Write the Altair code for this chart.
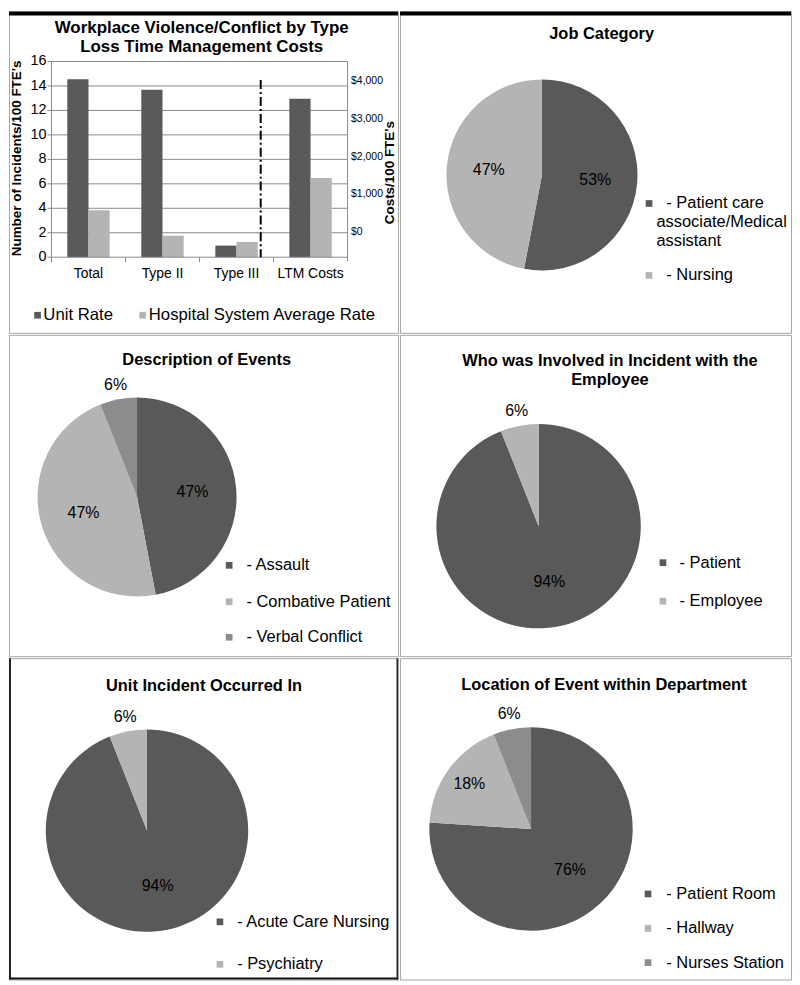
import textwrap
import altair as alt
import pandas as pd

FONT = "Liberation Sans"
DARK, LIGHT, MID = "#595959", "#b4b4b4", "#8c8c8c"
GRID = "#8a8a8a"
BORDER = "#a6a6a6"

# ---------------- data ----------------
bar_categories = ["Total", "Type II", "Type III", "LTM Costs"]
bar_series = ["Unit Rate", "Hospital System Average Rate"]
incident_categories = ["Total", "Type II", "Type III"]
unit_rate = [14.55, 13.7, 0.95]          # incidents / 100 FTE's
hospital_rate = [3.85, 1.75, 1.25]
ltm_costs = [3540, 1430]                 # $ / 100 FTE's (unit, hospital)
left_ticks = [0, 2, 4, 6, 8, 10, 12, 14, 16]
right_ticks = [0, 1000, 2000, 3000, 4000]

job_categories = ["- Patient care associate/Medical assistant", "- Nursing"]
job_share = [53, 47]
event_categories = ["- Assault", "- Combative Patient", "- Verbal Conflict"]
event_share = [47, 47, 6]
who_categories = ["- Patient", "- Employee"]
who_share = [94, 6]
unit_categories = ["- Acute Care Nursing", "- Psychiatry"]
unit_share = [94, 6]
location_categories = ["- Patient Room", "- Hallway", "- Nurses Station"]
location_share = [76, 18, 6]

COL_W = [391, 393]
ROW_H = 323


def one():
    return pd.DataFrame({"k": [0]})


def text_at(x, y, s, size=16.5, bold=False, align="left", angle=0):
    return alt.Chart(one()).mark_text(
        text=s, font=FONT, fontSize=size, fontWeight="bold" if bold else "normal",
        align=align, baseline="middle", angle=angle, color="black",
    ).encode(x=alt.value(x), y=alt.value(y))


def box(x1, x2, y1, y2, color):
    return alt.Chart(one()).mark_rect(color=color, strokeWidth=0).encode(
        x=alt.value(x1), x2=alt.value(x2), y=alt.value(y1), y2=alt.value(y2))


def hrule(x1, x2, y, color, w=1):
    return alt.Chart(one()).mark_rule(color=color, strokeWidth=w).encode(
        x=alt.value(x1), x2=alt.value(x2), y=alt.value(y))


def vrule(x, y1, y2, color, w=1, dash=None):
    kw = dict(color=color, strokeWidth=w)
    if dash:
        kw["strokeDash"] = dash
    return alt.Chart(one()).mark_rule(**kw).encode(
        x=alt.value(x), y=alt.value(y1), y2=alt.value(y2))


# ---------------- panel 1 : bar chart ----------------
def bar_panel(w, h):
    L, R, T, B = 42.7, 340.3, 50.3, 247
    inc_scale = alt.Scale(domain=[0, 16], range=[B, T], nice=False, zero=True)
    cost_scale = alt.Scale(domain=[-681, 4530], range=[B, T], nice=False, zero=False)
    x_scale = alt.Scale(domain=bar_categories, range=[L, R], paddingInner=0, paddingOuter=0)
    color_scale = alt.Scale(domain=bar_series, range=[DARK, LIGHT])

    inc_df = pd.DataFrame({
        "cat": incident_categories * 2,
        "series": [bar_series[0]] * 3 + [bar_series[1]] * 3,
        "value": unit_rate + hospital_rate,
    })
    cost_df = pd.DataFrame({"cat": ["LTM Costs"] * 2, "series": bar_series, "cost": ltm_costs})
    layers = []
    # grid
    layers.append(alt.Chart(pd.DataFrame({"t": left_ticks[1:]})).mark_rule(color=GRID, strokeWidth=1).encode(
        y=alt.Y("t:Q", scale=inc_scale, axis=None), x=alt.value(L), x2=alt.value(R)))
    # bars
    for s, off in zip(bar_series, [-10.65, 10.65]):
        layers.append(alt.Chart(inc_df).transform_filter(alt.datum.series == s).mark_bar(width=21.3, xOffset=off).encode(
            x=alt.X("cat:N", scale=x_scale, axis=None),
            y=alt.Y("value:Q", scale=inc_scale, axis=None),
            color=alt.Color("series:N", scale=color_scale, legend=None)))
        layers.append(alt.Chart(cost_df).transform_filter(alt.datum.series == s).transform_calculate(base="-681").mark_bar(width=21.3, xOffset=off).encode(
            x=alt.X("cat:N", scale=x_scale, axis=None),
            y=alt.Y("cost:Q", scale=cost_scale, axis=None),
            y2=alt.Y2("base:Q"),
            color=alt.Color("series:N", scale=color_scale, legend=None)))
    # axes lines
    layers.append(hrule(L, R, B, GRID))
    layers.append(vrule(L, T, B + 4, GRID))
    layers.append(vrule(R, T, B + 4, GRID))
    # left ticks + labels
    tdf = pd.DataFrame({"t": left_ticks})
    layers.append(alt.Chart(tdf).mark_rule(color=GRID).encode(
        y=alt.Y("t:Q", scale=inc_scale, axis=None), x=alt.value(L - 4), x2=alt.value(L)))
    layers.append(alt.Chart(tdf).mark_text(font=FONT, fontSize=14.5, align="right", baseline="middle", color="black").encode(
        y=alt.Y("t:Q", scale=inc_scale, axis=None), x=alt.value(L - 5), text="t:Q"))
    # right labels
    layers.append(alt.Chart(pd.DataFrame({"c": right_ticks})).mark_text(font=FONT, fontSize=10.5, align="left", baseline="middle", color="black").encode(
        y=alt.Y("c:Q", scale=cost_scale, axis=None), x=alt.value(R + 3.5), text=alt.Text("c:Q", format="$,.0f")))
    # x ticks + labels
    cdf = pd.DataFrame({"cat": bar_categories})
    layers.append(alt.Chart(cdf).mark_rule(color=GRID).encode(
        x=alt.X("cat:N", scale=x_scale, bandPosition=0, axis=None), y=alt.value(B), y2=alt.value(B + 5)))
    layers.append(alt.Chart(cdf).mark_text(font=FONT, fontSize=14, baseline="middle", color="black").encode(
        x=alt.X("cat:N", scale=x_scale, axis=None), y=alt.value(264), text="cat:N"))
    # divider
    layers.append(vrule(253, 69, B, "black", 2, [9, 3, 2, 3]))
    # titles
    layers.append(text_at(193.7, 17, "Workplace Violence/Conflict by Type", size=17, bold=True, align="center"))
    layers.append(text_at(193.7, 35.3, "Loss Time Management Costs", size=17, bold=True, align="center"))
    layers.append(text_at(8, 147.7, "Number of Incidents/100 FTE's", size=13.5, bold=True, align="center", angle=270))
    layers.append(text_at(383, 162, "Costs/100 FTE's", size=13.5, bold=True, align="center", angle=270))
    # legend
    for s, col, sx, tx in zip(bar_series, [DARK, LIGHT], [28.7, 134.3], [34.5, 140.5]):
        layers.append(alt.Chart(one()).mark_square(size=45, opacity=1, color=col).encode(
            x=alt.value(sx), y=alt.value(305.3)))
        layers.append(text_at(tx, 305.3, s, size=16.8))
    layers.append(box(0, w, 0, 4, "black"))
    return alt.layer(*layers).resolve_scale(y="independent").properties(width=w, height=h)


# ---------------- pie panels ----------------
def pie_panel(w, h, title_lines, title_x, title_y, cats, share, cx, cy, R,
              sq_x, dash_x, legend_ys, wrap=100, wrap_x=None, extra=None):
    colors = [DARK, LIGHT, MID][:len(cats)]
    df = pd.DataFrame({"cat": cats, "share": share, "idx": list(range(len(cats)))})
    cscale = alt.Scale(domain=cats, range=colors)
    base = alt.Chart(df).encode(
        theta=alt.Theta("share:Q", stack=True),
        order=alt.Order("idx:Q"),
        x=alt.value(cx), y=alt.value(cy))
    layers = [base.mark_arc(outerRadius=R).encode(
        color=alt.Color("cat:N", scale=cscale, legend=None))]
    groups = [("datum.share >= 30", 0.56 * R),
              ("datum.share >= 10 && datum.share < 30", 0.75 * R),
              ("datum.share < 10", R + 15)]
    for cond, rad in groups:
        layers.append(base.transform_calculate(lab=f"({cond}) ? datum.share + '%' : ''").mark_text(
            radius=rad, font=FONT, fontSize=16, color="black", baseline="middle").encode(text="lab:N"))
    for i, line in enumerate(title_lines):
        layers.append(text_at(title_x, title_y + i * 18.7, line, bold=True, align="center"))
    for i, c in enumerate(cats):
        y0 = legend_ys[i]
        layers.append(alt.Chart(df).transform_filter(alt.datum.idx == i).mark_square(size=45, opacity=1).encode(
            x=alt.value(sq_x), y=alt.value(y0),
            color=alt.Color("cat:N", scale=cscale, legend=None)))
        lines = textwrap.wrap(c, width=wrap, break_long_words=False, break_on_hyphens=False)
        for j, line in enumerate(lines):
            layers.append(text_at(dash_x if j == 0 else wrap_x, y0 + j * 19, line))
    if extra:
        layers.extend(extra)
    return alt.layer(*layers).properties(width=w, height=h)


p1 = bar_panel(COL_W[0], ROW_H)
p2 = pie_panel(COL_W[1], ROW_H, ["Job Category"], 202.7, 22.7, job_categories, job_share,
               142.7, 164.3, 96, 250.3, 267.7, [193, 265.3], wrap=17, wrap_x=257.7,
               extra=[box(0, COL_W[1], 0, 4, "black")])
p3 = pie_panel(COL_W[0], ROW_H, ["Description of Events"], 198.7, 25.7, event_categories, event_share,
               128.7, 163, 100, 221.3, 238.7, [231.7, 268.3, 304])
p4 = pie_panel(COL_W[1], ROW_H, ["Who was Involved in Incident with the", "Employee"], 211, 26.3,
               who_categories, who_share, 139.3, 192.3, 102.7, 264.3, 281, [229, 267.7])
p5 = pie_panel(COL_W[0], ROW_H, ["Unit Incident Occurred In"], 196, 27.7, unit_categories, unit_share,
               138.7, 173.3, 101.7, 212, 229.3, [265, 307.7],
               extra=[box(0, 2, 0, ROW_H, "#222"), box(COL_W[0] - 1.5, COL_W[0], 0, ROW_H, "#222"),
                      box(0, COL_W[0], ROW_H - 2, ROW_H, "#111")])
p6 = pie_panel(COL_W[1], ROW_H, ["Location of Event within Department"], 205, 27, location_categories, location_share,
               131.7, 171.7, 102.2, 249.3, 267.7, [237, 271.7, 306])

ind = dict(color="independent", theta="independent", x="independent", y="independent")
row1 = alt.hconcat(p1, p2, spacing=0).resolve_scale(**ind)
row2 = alt.hconcat(p3, p4, spacing=0).resolve_scale(**ind)
row3 = alt.hconcat(p5, p6, spacing=0).resolve_scale(**ind)
chart = alt.vconcat(row1, row2, row3, spacing=0).resolve_scale(**ind).properties(
    padding=0, background="white"
).configure_view(stroke=BORDER, strokeWidth=1)

chart.save("out.html", embed_options={"renderer": "svg", "actions": False})
